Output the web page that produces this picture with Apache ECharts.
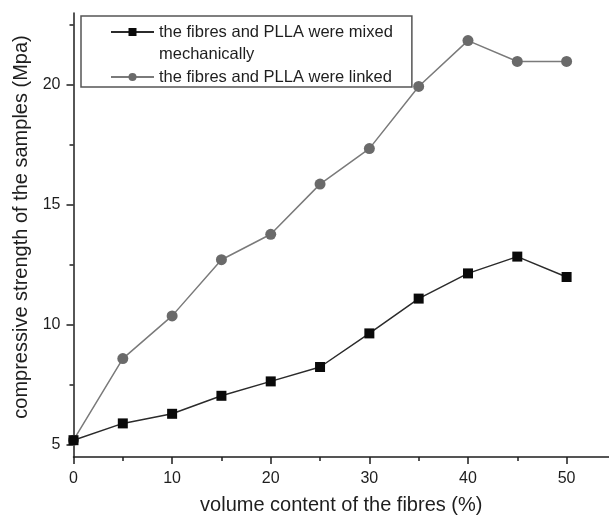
<!DOCTYPE html>
<html>
<head>
<meta charset="utf-8">
<script src="https://cdn.jsdelivr.net/npm/echarts@6/dist/echarts.min.js"></script>
<style>
  html, body { margin: 0; padding: 0; background: #fff; }
  #chart { width: 609px; height: 520px; }
</style>
</head>
<body>
<div id="chart"></div>
<script>
const fibreContent = [0, 5, 10, 15, 20, 25, 30, 35, 40, 45, 50];
const mixedStrength = [5.2, 5.9, 6.3, 7.05, 7.65, 8.25, 9.65, 11.1, 12.15, 12.85, 12.0];
const linkedStrength = [5.2, 8.6, 10.38, 12.72, 13.78, 15.87, 17.35, 19.94, 21.85, 20.98, 20.98];
const xMajorTicks = [0, 10, 20, 30, 40, 50];
const xMinorTicks = [5, 15, 25, 35, 45];
const yMajorTicks = [5, 10, 15, 20];
const yMinorTicks = [7.5, 12.5, 17.5, 22.5];

const nameMixed = 'the fibres and PLLA were mixed\nmechanically';
const nameLinked = 'the fibres and PLLA were linked';

const font = 'Liberation Sans, Arial, sans-serif';
const ink = '#1e1e1e';

const chart = echarts.init(document.getElementById('chart'));

function pairs(ys) {
  return fibreContent.map((x, i) => [x, ys[i]]);
}

const xRange = { min: 0, max: 54.3 };
const yRange = { min: 4.5, max: 23 };

chart.setOption({
  animation: false,
  backgroundColor: '#fff',
  grid: { left: 73.5, right: 0, top: 13, bottom: 63 },
  legend: {
    orient: 'vertical',
    left: 81,
    top: 16,
    itemWidth: 43,
    itemHeight: 10,
    itemGap: 1,
    padding: [-17, 19, -1, 29],
    backgroundColor: '#fff',
    borderColor: '#555',
    borderWidth: 1.5,
    textStyle: { fontFamily: font, fontSize: 16.5, color: ink, lineHeight: 22 },
    // blank first line keeps the marker level with the first line of the two-line label
    formatter: name => (name === nameMixed ? '\n' + name : name),
    data: [nameMixed, nameLinked]
  },
  xAxis: [{
    type: 'value',
    ...xRange,
    name: 'volume content of the fibres (%)',
    nameLocation: 'middle',
    nameGap: 38,
    nameTextStyle: { fontFamily: font, fontSize: 20, color: ink },
    splitLine: { show: false },
    axisLine: { lineStyle: { color: ink, width: 1.5 } },
    axisTick: { customValues: xMajorTicks, length: 7, lineStyle: { color: ink, width: 1.5 } },
    axisLabel: { customValues: xMajorTicks, margin: 14, fontFamily: font, fontSize: 16, color: ink }
  }, {
    type: 'value',
    ...xRange,
    position: 'bottom',
    splitLine: { show: false },
    axisLine: { show: false },
    axisTick: { customValues: xMinorTicks, length: 4, lineStyle: { color: ink, width: 1.5 } },
    axisLabel: { show: false }
  }],
  yAxis: [{
    type: 'value',
    ...yRange,
    name: 'compressive strength of the samples (Mpa)',
    nameLocation: 'middle',
    nameGap: 41,
    nameTextStyle: { fontFamily: font, fontSize: 20, color: ink, padding: [0, 0, 0, 16] },
    splitLine: { show: false },
    axisLine: { show: true, lineStyle: { color: ink, width: 1.5 } },
    axisTick: { show: true, customValues: yMajorTicks, length: 7, lineStyle: { color: ink, width: 1.5 } },
    axisLabel: { customValues: yMajorTicks, margin: 13, fontFamily: font, fontSize: 16, color: ink }
  }, {
    type: 'value',
    ...yRange,
    position: 'left',
    splitLine: { show: false },
    axisLine: { show: false },
    axisTick: { show: true, customValues: yMinorTicks, length: 4, lineStyle: { color: ink, width: 1.5 } },
    axisLabel: { show: false }
  }],
  series: [
    {
      name: nameMixed,
      type: 'line',
      data: pairs(mixedStrength),
      symbol: 'rect',
      symbolSize: 10,
      lineStyle: { color: '#2b2b2b', width: 1.5 },
      itemStyle: { color: '#0a0a0a' },
      z: 3
    },
    {
      name: nameLinked,
      type: 'line',
      data: pairs(linkedStrength),
      symbol: 'circle',
      symbolSize: 11,
      lineStyle: { color: '#7a7a7a', width: 1.5 },
      itemStyle: { color: '#6a6a6a' },
      z: 2
    }
  ]
});
</script>
</body>
</html>
